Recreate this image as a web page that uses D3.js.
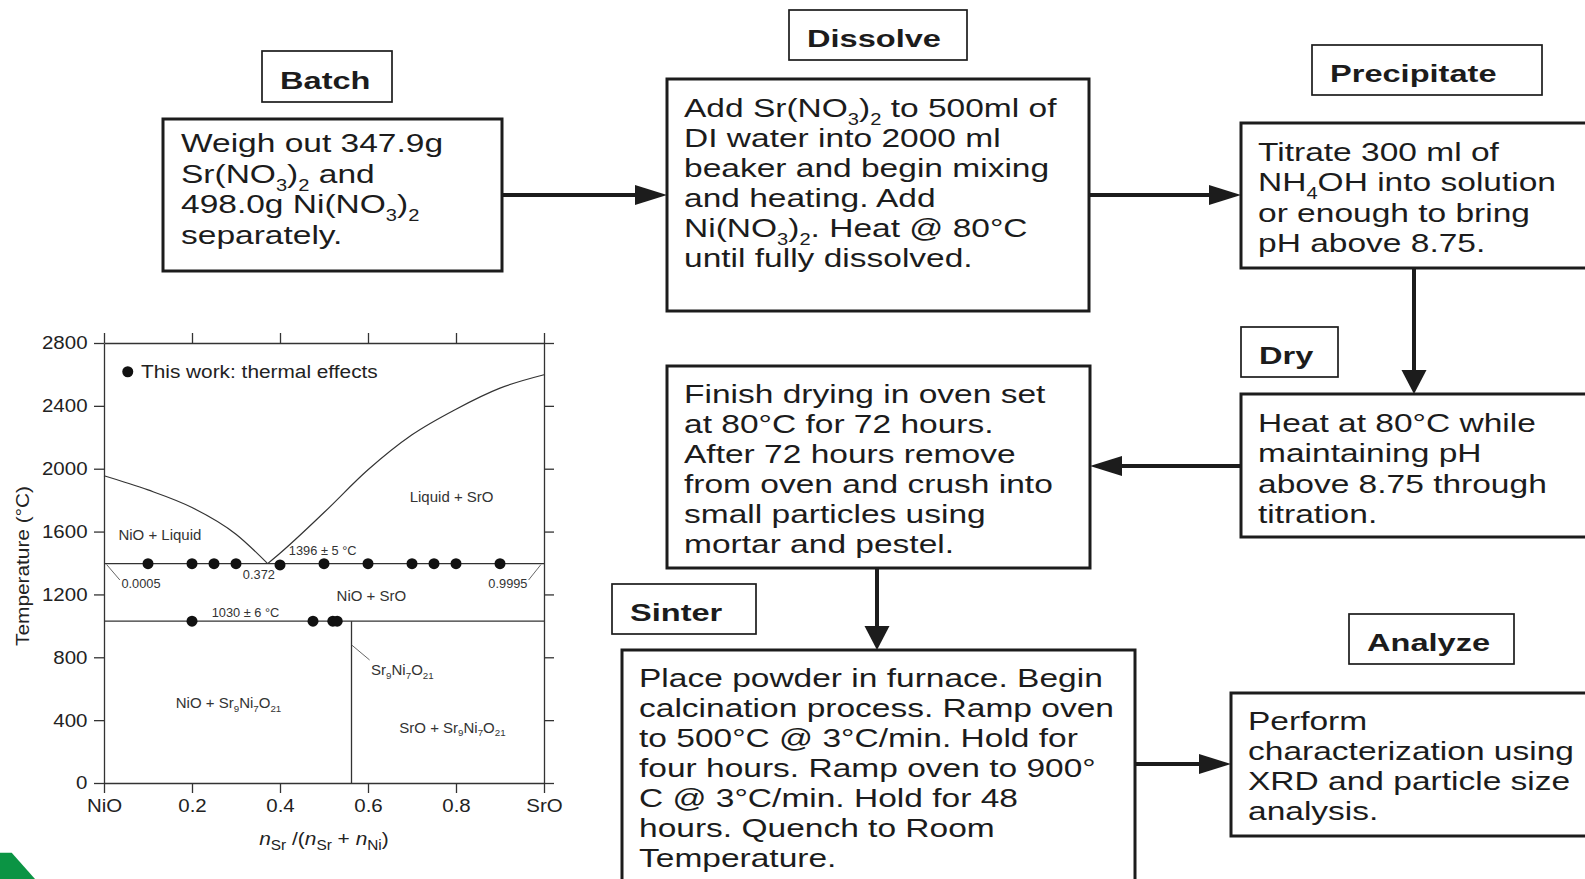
<!DOCTYPE html>
<html><head><meta charset="utf-8">
<script src="https://cdn.jsdelivr.net/npm/d3@7"></script>
<style>html,body{margin:0;padding:0;background:#fff;} svg{display:block;}</style>
</head><body>
<svg id="c" width="1585" height="879"></svg>
<script>
// ---------------- Phase diagram data ----------------
const xTicks = [0, 0.2, 0.4, 0.6, 0.8, 1];
const xTickLabels = ["NiO", "0.2", "0.4", "0.6", "0.8", "SrO"];
const yTicks = [0, 400, 800, 1200, 1600, 2000, 2400, 2800];
const liquidusLeftX = [0, 0.1, 0.2, 0.3, 0.372];
const liquidusLeftT = [1955, 1865, 1753, 1583, 1396];
const liquidusRightX = [0.372, 0.4, 0.5, 0.6, 0.7, 0.8, 0.9, 1.0];
const liquidusRightT = [1396, 1462, 1721, 1993, 2216, 2379, 2513, 2598];
const eutecticT = 1396;
const eutectoidT = 1030;
const compoundX = 0.5625;
const eutecticPtsX = [0.1, 0.2, 0.25, 0.3, 0.4, 0.5, 0.6, 0.7, 0.75, 0.8, 0.9];
const eutecticPtsT = [1396, 1396, 1396, 1396, 1388, 1396, 1396, 1396, 1396, 1396, 1396];
const eutectoidPtsX = [0.2, 0.475, 0.52, 0.53];
const eutectoidPtsT = [1030, 1030, 1030, 1030];
const regionLabels = ["Liquid + SrO", "NiO + Liquid", "NiO + SrO", "NiO + Sr_{9}Ni_{7}O_{21}", "SrO + Sr_{9}Ni_{7}O_{21}"];
const regionLabelX = [0.79, 0.127, 0.6077, 0.283, 0.792];
const regionLabelT = [1790, 1546, 1160, 475, 320];
const noteLabels = ["1396 ± 5 °C", "0.372", "0.0005", "0.9995", "1030 ± 6 °C"];
const noteLabelX = [0.497, 0.352, 0.084, 0.918, 0.3216];
const noteLabelT = [1451, 1298, 1241, 1239, 1055];
const compoundLabel = "Sr_{9}Ni_{7}O_{21}";
const legendLabel = "This work: thermal effects";
const yAxisTitle = "Temperature (°C)";

// ---------------- Flowchart content ----------------
const stepTitles = ["Batch", "Dissolve", "Precipitate", "Dry", "", "Sinter", "Analyze"];
const stepLines = [
  ["Weigh out 347.9g", "Sr(NO_{3})_{2} and", "498.0g Ni(NO_{3})_{2}", "separately."],
  ["Add Sr(NO_{3})_{2} to 500ml of", "DI water into 2000 ml", "beaker and begin mixing", "and heating. Add", "Ni(NO_{3})_{2}. Heat @ 80°C", "until fully dissolved."],
  ["Titrate 300 ml of", "NH_{4}OH into solution", "or enough to bring", "pH above 8.75."],
  ["Heat at 80°C while", "maintaining pH", "above 8.75 through", "titration."],
  ["Finish drying in oven set", "at 80°C for 72 hours.", "After 72 hours remove", "from oven and crush into", "small particles using", "mortar and pestel."],
  ["Place powder in furnace. Begin", "calcination process. Ramp oven", "to 500°C @ 3°C/min. Hold for", "four hours. Ramp oven to 900°", "C @ 3°C/min. Hold for 48", "hours. Quench to Room", "Temperature."],
  ["Perform", "characterization using", "XRD and particle size", "analysis."]
];

// ---------------- Layout (positions / styles) ----------------
const FONT = "'Liberation Sans', Arial, Helvetica, sans-serif";
const INK = "#1c1c1c";
const boxLayout = [
  {title: [262, 51, 130, 51],  body: [163, 119, 339, 152], tx: 181,  ty: 152, lh: 30.5},
  {title: [789, 10, 178, 50],  body: [667, 79, 422, 232],  tx: 684,  ty: 117, lh: 30},
  {title: [1312, 45, 230, 50], body: [1241, 123, 370, 145], tx: 1258, ty: 161, lh: 30.3},
  {title: [1241, 327, 97, 50], body: [1241, 394, 370, 143], tx: 1258, ty: 432, lh: 30.3},
  {title: null,                body: [667, 366, 423, 202], tx: 684,  ty: 403, lh: 30},
  {title: [612, 584, 144, 50], body: [622, 650, 513, 240], tx: 639,  ty: 687, lh: 30},
  {title: [1349, 614, 165, 50], body: [1231, 693, 380, 143], tx: 1248, ty: 730, lh: 30}
];
const arrowLayout = [
  [[502, 195], [667, 195]],
  [[1089, 195], [1241, 195]],
  [[1414, 268], [1414, 394]],
  [[1241, 466], [1090, 466]],
  [[877, 568], [877, 650]],
  [[1135, 764], [1231, 764]]
];

const svg = d3.select("#c");

// rich text helper: "_{..}" -> subscript
function rich(textSel, str, fs, subScale, subShift) {
  const parts = str.split(/(_\{[^}]*\})/);
  let shifted = 0;
  parts.forEach(p => {
    if (!p) return;
    const m = p.match(/^_\{([^}]*)\}$/);
    if (m) {
      textSel.append("tspan").attr("font-size", fs * subScale).attr("dy", subShift - shifted).text(m[1]);
      shifted = subShift;
    } else {
      textSel.append("tspan").attr("dy", -shifted).text(p);
      shifted = 0;
    }
  });
}

// ---------------- Green corner ----------------
svg.append("polygon").attr("points", "0,852.7 11.7,852.7 35,879 0,879").attr("fill", "#0b9444");

// ---------------- Flowchart ----------------
const fc = svg.append("g").attr("font-family", FONT).attr("fill", INK);
const BODY_FS = 26.5, BODY_SX = 1.265, TITLE_FS = 24.5, TITLE_SX = 1.33;

boxLayout.forEach((L, i) => {
  const [bx, by, bw, bh] = L.body;
  fc.append("rect").attr("x", bx).attr("y", by).attr("width", bw).attr("height", bh)
    .attr("fill", "#fff").attr("stroke", INK).attr("stroke-width", 3);
  stepLines[i].forEach((line, j) => {
    const t = fc.append("text")
      .attr("transform", `translate(${L.tx},${L.ty + j * L.lh}) scale(${BODY_SX},1)`)
      .attr("font-size", BODY_FS);
    rich(t, line, BODY_FS, 0.6, 8);
  });
  if (L.title && stepTitles[i]) {
    const [tx, ty, tw, th] = L.title;
    fc.append("rect").attr("x", tx).attr("y", ty).attr("width", tw).attr("height", th)
      .attr("fill", "#fff").attr("stroke", INK).attr("stroke-width", 1.7);
    fc.append("text")
      .attr("transform", `translate(${tx + 18},${ty + th / 2 + 12}) scale(${TITLE_SX},1)`)
      .attr("font-size", TITLE_FS).attr("font-weight", "bold").text(stepTitles[i]);
  }
});

arrowLayout.forEach(([a, b]) => {
  const dx = b[0] - a[0], dy = b[1] - a[1];
  const len = Math.hypot(dx, dy);
  const ux = dx / len, uy = dy / len;
  const horiz = Math.abs(dx) > Math.abs(dy);
  const hl = horiz ? 32 : 24, hw = horiz ? 10 : 12.5;
  const bxp = b[0] - ux * hl, byp = b[1] - uy * hl;
  fc.append("line").attr("x1", a[0]).attr("y1", a[1]).attr("x2", bxp + ux * 2).attr("y2", byp + uy * 2)
    .attr("stroke", INK).attr("stroke-width", 4);
  const px = -uy, py = ux;
  fc.append("polygon")
    .attr("points", [[b[0], b[1]], [bxp + px * hw, byp + py * hw], [bxp - px * hw, byp - py * hw]].map(p => p.join(",")).join(" "))
    .attr("fill", INK);
});

// ---------------- Phase diagram ----------------
const x = d3.scaleLinear().domain([0, 1]).range([104, 544]);
const y = d3.scaleLinear().domain([0, 2800]).range([783, 343]);
const pd = svg.append("g").attr("font-family", FONT);
const AX = "#333", PSX = 1.1, TICK_FS = 18.6;

function styleAxis(g) {
  g.selectAll(".domain").attr("stroke", AX).attr("stroke-width", 1.3);
  g.selectAll(".tick line").attr("stroke", AX).attr("stroke-width", 1.3);
  g.selectAll(".tick text").attr("font-size", TICK_FS).attr("fill", "#222").attr("font-family", FONT);
}
const gB = pd.append("g").attr("transform", `translate(0,${y(0)})`)
  .call(d3.axisBottom(x).tickValues(xTicks).tickFormat((d, i) => xTickLabels[i]).tickSize(10).tickSizeOuter(0).tickPadding(5.5));
styleAxis(gB);
gB.selectAll(".tick text").attr("transform", `scale(${PSX},1)`);
const gT = pd.append("g").attr("transform", `translate(0,${y(2800)})`)
  .call(d3.axisTop(x).tickValues(xTicks).tickFormat("").tickSize(10).tickSizeOuter(0));
styleAxis(gT);
const gL = pd.append("g").attr("transform", `translate(${x(0)},0)`)
  .call(d3.axisLeft(y).tickValues(yTicks).tickFormat(d3.format("d")).tickSize(10).tickSizeOuter(0).tickPadding(6.5));
styleAxis(gL);
gL.selectAll(".tick text").attr("x", -16.5 / PSX).attr("transform", `scale(${PSX},1)`);
const gR = pd.append("g").attr("transform", `translate(${x(1)},0)`)
  .call(d3.axisRight(y).tickValues(yTicks).tickFormat("").tickSize(10).tickSizeOuter(0));
styleAxis(gR);

// axis titles
pd.append("text").attr("transform", `translate(28.5,566) rotate(-90) scale(1.12,1)`)
  .attr("text-anchor", "middle").attr("font-size", 18.6).attr("fill", "#222").text(yAxisTitle);
const xl = pd.append("text").attr("transform", `translate(324,845) scale(${PSX},1)`)
  .attr("text-anchor", "middle").attr("font-size", 19).attr("fill", "#222");
[["n", "i", 0], ["Sr", "s", 5], [" /(", "", -5], ["n", "i", 0], ["Sr", "s", 5], [" + ", "", -5], ["n", "i", 0], ["Ni", "s", 5], [")", "", -5]]
  .forEach(([s, k, d]) => {
    const ts = xl.append("tspan").attr("dy", d).text(s);
    if (k === "i") ts.attr("font-style", "italic");
    if (k === "s") ts.attr("font-size", 14);
  });

// phase boundaries
const line = d3.line().x(d => x(d[0])).y(d => y(d[1])).curve(d3.curveMonotoneX);
pd.append("path").attr("d", line(liquidusLeftX.map((v, i) => [v, liquidusLeftT[i]])))
  .attr("fill", "none").attr("stroke", AX).attr("stroke-width", 1.2);
pd.append("path").attr("d", line(liquidusRightX.map((v, i) => [v, liquidusRightT[i]])))
  .attr("fill", "none").attr("stroke", AX).attr("stroke-width", 1.2);
[eutecticT, eutectoidT].forEach(T => {
  pd.append("line").attr("x1", x(0)).attr("x2", x(1)).attr("y1", y(T)).attr("y2", y(T))
    .attr("stroke", AX).attr("stroke-width", 1.4);
});
pd.append("line").attr("x1", x(compoundX)).attr("x2", x(compoundX)).attr("y1", y(eutectoidT)).attr("y2", y(0))
  .attr("stroke", AX).attr("stroke-width", 1.3);

// leader lines
[[[0.006, 1390], [0.036, 1292]], [[0.993, 1390], [0.965, 1292]], [[0.563, 878], [0.6036, 783]]].forEach(([a, b]) => {
  pd.append("line").attr("x1", x(a[0])).attr("y1", y(a[1])).attr("x2", x(b[0])).attr("y2", y(b[1]))
    .attr("stroke", "#555").attr("stroke-width", 0.9);
});

// data points
const pts = eutecticPtsX.map((v, i) => [v, eutecticPtsT[i]]).concat(eutectoidPtsX.map((v, i) => [v, eutectoidPtsT[i]]));
pd.selectAll("circle.pt").data(pts).enter().append("circle").attr("class", "pt")
  .attr("cx", d => x(d[0])).attr("cy", d => y(d[1])).attr("r", 5.5).attr("fill", "#111");

// legend
pd.append("circle").attr("cx", x(0.054)).attr("cy", y(2617)).attr("r", 5.5).attr("fill", "#111");
pd.append("text").attr("transform", `translate(${x(0.084)},${y(2575)}) scale(1.12,1)`)
  .attr("font-size", 18.6).attr("fill", "#222").text(legendLabel);

// region labels
regionLabels.forEach((s, i) => {
  const t = pd.append("text").attr("x", x(regionLabelX[i])).attr("y", y(regionLabelT[i]))
    .attr("text-anchor", "middle").attr("font-size", 15).attr("fill", "#333");
  rich(t, s, 15, 0.65, 3.5);
});
noteLabels.forEach((s, i) => {
  pd.append("text").attr("x", x(noteLabelX[i])).attr("y", y(noteLabelT[i]))
    .attr("text-anchor", "middle").attr("font-size", 12.8).attr("fill", "#333").text(s);
});
{
  const t = pd.append("text").attr("x", x(0.607)).attr("y", y(687))
    .attr("font-size", 15).attr("fill", "#333");
  rich(t, compoundLabel, 15, 0.65, 3.5);
}
</script>
</body></html>
